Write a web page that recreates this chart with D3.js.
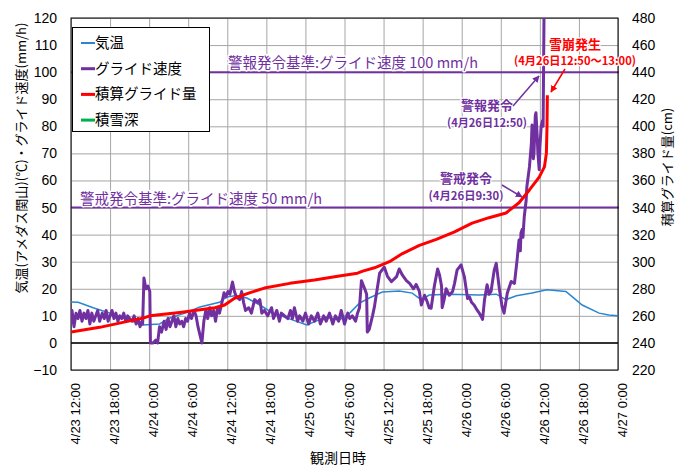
<!DOCTYPE html>
<html>
<head>
<meta charset="utf-8">
<script src="https://d3js.org/d3.v7.min.js"></script>
<style>
  body { margin: 0; background: #fff; }
  text { font-family: "Liberation Sans", Arial, sans-serif; }
  .jp { font-family: "Noto Sans CJK JP", sans-serif; }
  .grid line { stroke: #a6a6a6; stroke-width: 1; }
  .grid path { display: none; }
</style>
</head>
<body>
<script>
// hours after 4/23 12:00 and values
var tempHours = [0, 1.1, 3.4, 6.0, 8.3, 11.0, 13.6, 15.2, 17.5, 19.8, 22.8, 23.9, 25.4, 27.0, 29.0, 31.0, 34.0, 36.2, 39.2, 41.2, 42.8, 44.3, 45.8, 47.8, 50.4, 52.4, 53.8, 55.0, 58.1, 62.7, 65.3, 66.8, 68.4, 70.8, 73.1, 76.0, 77.0, 78.5, 81.1, 82.6, 84.0];
var tempValues = [15.1, 15, 13, 11, 9, 6.6, 7, 9.2, 11, 13.3, 15, 17, 17.5, 16.6, 14, 11, 8.5, 6.6, 9.6, 8.5, 11, 14.7, 16.6, 18.8, 19.2, 18.4, 15.9, 17.7, 18, 17.7, 18, 16, 17.4, 18.4, 19.6, 19, 17, 14, 11, 10.3, 10];

var glideHours = [0, 0.15, 0.46, 0.77, 1.07, 1.38, 1.69, 1.99, 2.3, 2.6, 2.9, 3.2, 3.5, 3.8, 4.1, 4.4, 4.8, 5.1, 5.4, 5.7, 6.0, 6.3, 6.6, 6.9, 7.2, 7.5, 7.8, 8.1, 8.4, 8.7, 9.0, 9.4, 9.7, 10.0, 10.3, 10.6, 10.9, 11.0,
  11.2, 11.5, 11.8, 12.1, 12.2, 12.6, 13.0, 13.3, 13.6, 13.9, 14.3, 14.6, 14.9, 15.2, 15.5, 15.8, 16.1, 16.4, 16.7, 17.0, 17.3, 17.6, 17.9, 18.2, 18.5, 18.9, 19.2, 19.5, 19.8, 20.1,
  20.4, 20.7, 21.0, 21.3, 21.6, 21.9, 22.2, 22.5, 22.8, 23.1, 23.5, 23.8, 24.1, 24.4, 24.8, 25.1, 25.4, 25.9, 26.2, 26.5, 26.8, 27.3, 27.7, 28.2, 28.7, 29.0, 29.3, 29.7, 30.2,
  30.8, 31.1, 31.6, 32.0, 32.3, 32.8, 33.3, 33.7, 34.0, 34.3, 34.8, 35.1, 35.6, 36.0, 36.5, 36.9, 37.4, 37.9, 38.3, 38.8, 39.2, 39.7, 40.2, 40.6, 41.1, 41.5, 42.0, 42.5, 42.8,
  43.2, 43.7, 44.0, 44.3, 44.6, 45.1, 45.4, 45.5, 45.8, 46.3, 46.6, 47.4, 48.1, 48.6, 49.2, 50.0, 50.4, 50.9, 51.5, 52.0, 52.6, 53.0, 53.5, 53.8, 54.3, 54.7, 55.0, 55.3, 55.8,
  56.3, 56.6, 56.9, 57.0, 57.3, 57.6, 58.1, 58.6, 58.9, 59.3, 59.9, 60.4, 60.9, 61.2, 61.5, 61.9, 62.4, 62.7, 63.0, 63.2, 63.5, 63.9, 64.2, 64.5, 65.0, 65.3, 65.8, 66.2, 66.5,
  67.0, 67.6, 68.1, 68.5, 68.8, 69.0, 69.1, 69.3, 69.4, 69.6, 69.9, 70.0, 70.4, 70.7, 70.8, 71.0, 71.1, 71.3, 71.4, 71.6, 71.7, 71.9, 72.0, 72.2, 72.4, 72.5, 72.7];
var glideSpeed = [7, 12, 6, 11, 9, 12, 8, 11, 9, 12, 7, 11, 8, 10, 12, 8, 11, 9, 12, 8, 10, 12, 9, 11, 8, 10, 9, 11, 8, 10, 9, 8, 10, 7, 9, 6, 8, 7,
  24, 20, 21, 19, 0, 0, 1, 0, 6, 4, 8, 5, 9, 6, 8, 10, 6, 9, 7, 8, 6, 9, 8, 11, 9, 12, 10, 6, 3, 0,
  8, 12, 9, 13, 10, 12, 8, 13, 11, 14, 18.5, 17, 19, 18, 22.5, 19, 17, 16, 19, 15, 12, 13, 11, 16, 15, 16, 11, 12, 10,
  13, 9, 12, 8, 11, 10, 9, 12, 9, 13, 8, 10, 8, 11, 7, 10, 8, 11, 7, 10, 8, 11, 7, 10, 8, 12, 7, 11, 9,
  10, 8, 11, 13, 23, 20, 18, 4, 5, 10, 13.4, 25.8, 28, 24.6, 22.6, 24.5, 27.3, 25, 23, 22, 20, 21.6, 19, 14, 17.6, 15.2, 13, 12.8, 21,
  27.3, 25, 21, 13, 16, 20, 17.6, 19, 22, 27, 28.8, 24.5, 16.4, 17, 15, 14, 12, 11, 9.7, 8.7, 15.9, 21.5, 18, 19, 27, 29.4, 19.6, 13.4, 11,
  18.4, 22.7, 22, 30.6, 38, 34, 40.6, 42, 39, 46.5, 52.8, 57.6, 65, 73.8, 80.5, 68, 70, 84, 85, 76, 70, 64, 72, 80, 82, 80, 140];

var cumHours = [0, 4.4, 11.2, 12.1, 16.7, 22.1, 23.6, 25.1, 27.4, 29.7, 33.6, 37.4, 41.2, 44.0, 44.8, 46.6, 48.9, 50.9, 53.5, 56.1, 58.9, 61.6, 64.2, 66.8, 68.8, 70.4, 71.9, 72.7, 73.0, 73.1, 73.15];
var cumGlide = [248, 251.5, 258.5, 260, 262.5, 266, 268, 273, 277, 280.5, 284, 286.5, 289.5, 291.5, 293, 295.5, 300, 306, 312, 316.5, 322, 328.5, 332.5, 336, 343.5, 353, 362.5, 370, 380, 400, 423];

var seriesNames = ["気温", "グライド速度", "積算グライド量", "積雪深"];
var seriesColors = ["#2a86d1", "#7030a0", "#ff0000", "#00b050"];
var leftTicks = d3.range(-10, 121, 10);
var rightTicks = d3.range(220, 481, 20);
var xTickHours = d3.range(0, 85, 6);
var thresholds = [100, 50];
var thresholdLabels = ["警報発令基準:グライド速度 100 mm/h", "警戒発令基準:グライド速度 50 mm/h"];

var W = 676, H = 468;
var m = {left: 71, top: 18, right: 57, bottom: 98};
var start = new Date(2014, 3, 23, 12);
function toDate(h) { return new Date(start.getTime() + h * 3600e3); }

var svg = d3.select("body").append("svg").attr("width", W).attr("height", H);

var x = d3.scaleTime().domain([start, toDate(84)]).range([m.left, W - m.right - 1]);
var yL = d3.scaleLinear().domain([-10, 120]).range([H - m.bottom, m.top]);
var yR = d3.scaleLinear().domain([220, 480]).range([H - m.bottom, m.top]);

// grid
svg.append("g").attr("class", "grid")
  .attr("transform", "translate(0," + (H - m.bottom) + ")")
  .call(d3.axisBottom(x).tickValues(xTickHours.map(toDate)).tickSize(-(H - m.bottom - m.top)).tickFormat(""));
svg.append("g").attr("class", "grid")
  .attr("transform", "translate(" + m.left + ",0)")
  .call(d3.axisLeft(yL).tickValues(leftTicks).tickSize(-(x.range()[1] - m.left)).tickFormat(""));

// zero line
svg.append("line").attr("x1", m.left).attr("x2", x.range()[1])
  .attr("y1", yL(0)).attr("y2", yL(0)).attr("stroke", "#333").attr("stroke-width", 2);

// threshold lines
svg.selectAll(".thr").data(thresholds).enter().append("line")
  .attr("x1", m.left).attr("x2", x.range()[1] + 1)
  .attr("y1", function (d) { return yL(d); }).attr("y2", function (d) { return yL(d); })
  .attr("stroke", "#7030a0").attr("stroke-width", 2);

// plot frame
svg.append("rect").attr("x", m.left).attr("y", m.top)
  .attr("width", x.range()[1] - m.left).attr("height", H - m.bottom - m.top)
  .attr("fill", "none").attr("stroke", "#000").attr("stroke-width", 1);

svg.append("clipPath").attr("id", "clip").append("rect")
  .attr("x", m.left).attr("y", m.top).attr("width", x.range()[1] - m.left).attr("height", H - m.bottom - m.top);

var plot = svg.append("g").attr("clip-path", "url(#clip)");

var lineT = d3.line().x(function (d) { return x(toDate(d[0])); }).y(function (d) { return yL(d[1]); });
var lineC = d3.line().x(function (d) { return x(toDate(d[0])); }).y(function (d) { return yR(d[1]); });

plot.append("path").datum(d3.zip(tempHours, tempValues)).attr("d", lineT)
  .attr("fill", "none").attr("stroke", seriesColors[0]).attr("stroke-width", 1.5);
plot.append("path").datum(d3.zip(glideHours, glideSpeed)).attr("d", lineT)
  .attr("fill", "none").attr("stroke", seriesColors[1]).attr("stroke-width", 3).attr("stroke-linejoin", "round");
plot.append("path").datum(d3.zip(cumHours, cumGlide)).attr("d", lineC)
  .attr("fill", "none").attr("stroke", seriesColors[2]).attr("stroke-width", 3).attr("stroke-linejoin", "round");

// axes labels
var axL = svg.append("g").attr("transform", "translate(" + m.left + ",0)")
  .call(d3.axisLeft(yL).tickValues(leftTicks).tickSize(0).tickPadding(14).tickFormat(d3.format("")));
axL.select(".domain").remove();
axL.selectAll("text").attr("font-size", 14).attr("fill", "#000").style("font-family", "'Liberation Sans', Arial, sans-serif");

var axR = svg.append("g").attr("transform", "translate(" + x.range()[1] + ",0)")
  .call(d3.axisRight(yR).tickValues(rightTicks).tickSize(0).tickPadding(14));
axR.select(".domain").remove();
axR.selectAll("text").attr("font-size", 14).attr("fill", "#000").style("font-family", "'Liberation Sans', Arial, sans-serif");

var axB = svg.append("g").attr("transform", "translate(0," + (H - m.bottom) + ")")
  .call(d3.axisBottom(x).tickValues(xTickHours.map(toDate)).tickSize(0).tickFormat(d3.timeFormat("%-m/%-d %-H:%M")));
axB.select(".domain").remove();
axB.selectAll("text")
  .attr("transform", "rotate(-90)")
  .attr("text-anchor", "end")
  .attr("x", -13).attr("y", 4).attr("dy", "0.35em")
  .attr("font-size", 13).attr("fill", "#000").style("font-family", "'Liberation Sans', Arial, sans-serif");

// axis titles
svg.append("text").attr("class", "jp")
  .attr("transform", "translate(26,158) rotate(-90)")
  .attr("text-anchor", "middle").attr("font-size", 13)
  .text("気温(アメダス関山)(℃)・グライド速度(mm/h)");
svg.append("text").attr("class", "jp")
  .attr("transform", "translate(672,167) rotate(-90)")
  .attr("text-anchor", "middle").attr("font-size", 13)
  .text("積算グライド量(cm)");
svg.append("text").attr("class", "jp")
  .attr("x", 338).attr("y", 463).attr("text-anchor", "middle").attr("font-size", 14)
  .text("観測日時");

// threshold labels
function halo(sel) {
  return sel.attr("stroke", "#fff").attr("stroke-width", 3).attr("paint-order", "stroke").attr("stroke-linejoin", "round");
}
halo(svg.append("text").attr("class", "jp").attr("x", 228).attr("y", yL(thresholds[0]) - 4)
  .attr("font-size", 14.5).attr("fill", "#7030a0").text(thresholdLabels[0]));
halo(svg.append("text").attr("class", "jp").attr("x", 80).attr("y", yL(thresholds[1]) - 4)
  .attr("font-size", 14.5).attr("fill", "#7030a0").text(thresholdLabels[1]));

// event notes
var notes = [
  {lines: ["雪崩発生", "(4月26日12:50～13:00)"], x: 575, y: [49, 65], color: "#ff0000", w: [null, 122]},
  {lines: ["警報発令", "(4月26日12:50)"], x: 487, y: [110, 127], color: "#7030a0", w: [null, 80]},
  {lines: ["警戒発令", "(4月26日9:30)"], x: 466, y: [183, 200], color: "#7030a0", w: [null, 75]}
];
notes.forEach(function (n) {
  n.lines.forEach(function (t, i) {
    var el = svg.append("text").attr("class", "jp").attr("x", n.x).attr("y", n.y[i])
      .attr("text-anchor", "middle").attr("font-size", i === 0 ? 13 : 11.5)
      .attr("font-weight", "bold").attr("fill", n.color).text(t);
    if (n.w[i]) el.attr("textLength", n.w[i]).attr("lengthAdjust", "spacingAndGlyphs");
    halo(el).attr("stroke-width", 2.5);
  });
});

// arrows
var defs = svg.append("defs");
["#7030a0", "#ff0000"].forEach(function (c, i) {
  defs.append("marker").attr("id", "arr" + i).attr("viewBox", "0 0 10 10")
    .attr("refX", 9).attr("refY", 5).attr("markerWidth", 7).attr("markerHeight", 7)
    .attr("orient", "auto").attr("markerUnits", "userSpaceOnUse")
    .append("path").attr("d", "M0,0L10,5L0,10z").attr("fill", c);
});
var arrows = [
  {x1: 565, y1: 69, x2: 551, y2: 92, m: 1, c: "#ff0000"},
  {x1: 513, y1: 106, x2: 539, y2: 76, m: 0, c: "#7030a0"},
  {x1: 502, y1: 185, x2: 522, y2: 197, m: 0, c: "#7030a0"}
];
svg.selectAll(".arrow").data(arrows).enter().append("line")
  .attr("x1", function (d) { return d.x1; }).attr("y1", function (d) { return d.y1; })
  .attr("x2", function (d) { return d.x2; }).attr("y2", function (d) { return d.y2; })
  .attr("stroke", function (d) { return d.c; }).attr("stroke-width", 1.5)
  .attr("marker-end", function (d) { return "url(#arr" + d.m + ")"; });

// legend
var lg = svg.append("g");
lg.append("rect").attr("x", 72.5).attr("y", 27.5).attr("width", 137).attr("height", 104)
  .attr("fill", "#fff").attr("stroke", "#000");
seriesNames.forEach(function (s, i) {
  var yy = 43 + i * 25.7;
  lg.append("line").attr("x1", 81).attr("x2", 95).attr("y1", yy).attr("y2", yy)
    .attr("stroke", seriesColors[i]).attr("stroke-width", i === 0 ? 2 : 3);
  lg.append("text").attr("class", "jp").attr("x", 95).attr("y", yy).attr("dy", "0.35em")
    .attr("font-size", 14.5).attr("fill", "#000").text(s);
});
</script>
</body>
</html>
